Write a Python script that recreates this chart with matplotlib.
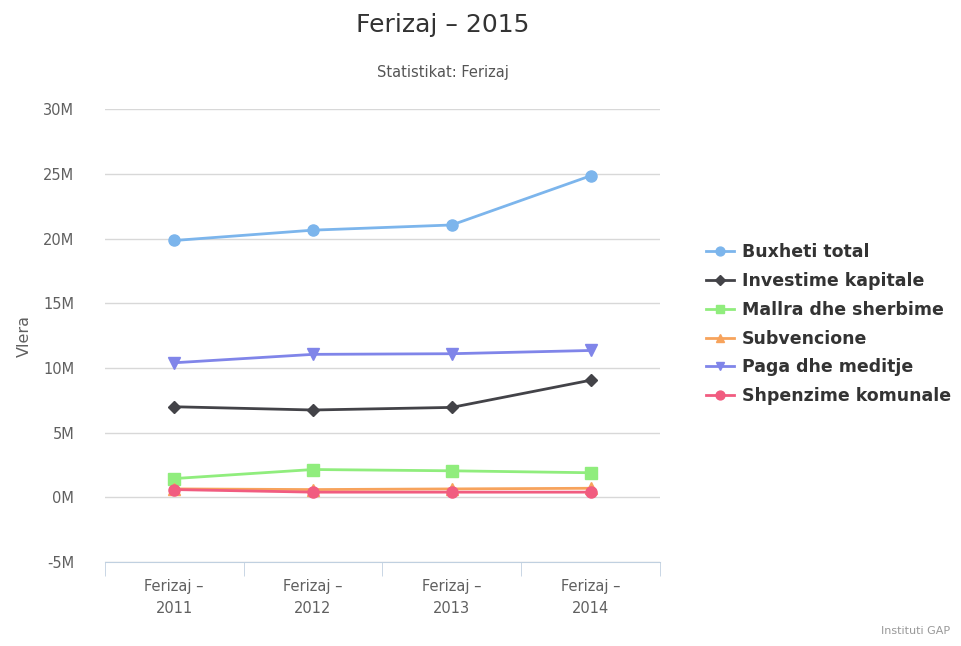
import numpy as np
import matplotlib
matplotlib.use('Agg')
import matplotlib.pyplot as plt
from matplotlib.ticker import FuncFormatter

categories = ['Ferizaj –\n2011', 'Ferizaj –\n2012', 'Ferizaj –\n2013', 'Ferizaj –\n2014']
buxheti = [19.85e6, 20.65e6, 21.05e6, 24.85e6]
investime = [7.0e6, 6.75e6, 6.95e6, 9.05e6]
mallra = [1.45e6, 2.15e6, 2.05e6, 1.9e6]
subvencione = [0.65e6, 0.6e6, 0.65e6, 0.7e6]
paga = [10.4e6, 11.05e6, 11.1e6, 11.35e6]
shpenzime = [0.6e6, 0.4e6, 0.4e6, 0.4e6]

series = [
    ('Buxheti total', buxheti, '#7cb5ec', 'o'),
    ('Investime kapitale', investime, '#434348', 'D'),
    ('Mallra dhe sherbime', mallra, '#90ed7d', 's'),
    ('Subvencione', subvencione, '#f7a35c', '^'),
    ('Paga dhe meditje', paga, '#8085e9', 'v'),
    ('Shpenzime komunale', shpenzime, '#f15c80', 'o'),
]

fig = plt.figure(figsize=(9.62, 6.46), dpi=100)
ax = fig.add_axes([0.109, 0.130, 0.577, 0.701])

x = np.arange(len(categories))
for name, vals, color, marker in series:
    ms = 6 if marker == 'D' else 8
    ax.plot(x, vals, color=color, marker=marker, markersize=ms, linewidth=2,
            label=name, zorder=3)

ax.set_xlim(-0.5, len(categories) - 0.5)
ax.set_ylim(-5e6, 30e6)
ax.set_yticks(np.arange(-5e6, 30.1e6, 5e6))
ax.yaxis.set_major_formatter(FuncFormatter(lambda v, p: f'{int(round(v / 1e6))}M'))
ax.grid(axis='y', color='#d8d8d8', linewidth=1)
ax.set_axisbelow(True)

ax.set_xticks(x)
ax.set_xticklabels(categories, color='#606060', fontsize=10.5, linespacing=1.6)
ax.set_xticks(np.arange(-0.5, len(categories), 1), minor=True)
ax.tick_params(axis='x', which='major', length=0, pad=12)
ax.tick_params(axis='x', which='minor', length=10, color='#c0d0e0')
ax.tick_params(axis='y', length=0, labelcolor='#606060', labelsize=10.5, pad=22)

for s in ['top', 'right', 'left']:
    ax.spines[s].set_visible(False)
ax.spines['bottom'].set_color('#c0d0e0')

ax.set_ylabel('Vlera', color='#606060', fontsize=11.5, labelpad=8)

fig.text(0.46, 0.962, 'Ferizaj – 2015', ha='center', va='center', fontsize=18, color='#333333')
fig.text(0.46, 0.887, 'Statistikat: Ferizaj', ha='center', va='center', fontsize=10.5, color='#555555')

leg = ax.legend(loc='center left', bbox_to_anchor=(1.07, 0.525), frameon=False,
                prop={'weight': 'bold', 'size': 12.5}, labelcolor='#333333',
                handlelength=1.6, handletextpad=0.5, labelspacing=0.62,
                borderaxespad=0, markerscale=0.8)

fig.text(0.988, 0.015, 'Instituti GAP', ha='right', va='bottom', fontsize=8, color='#999999')

fig.savefig('out.png', dpi=100)
